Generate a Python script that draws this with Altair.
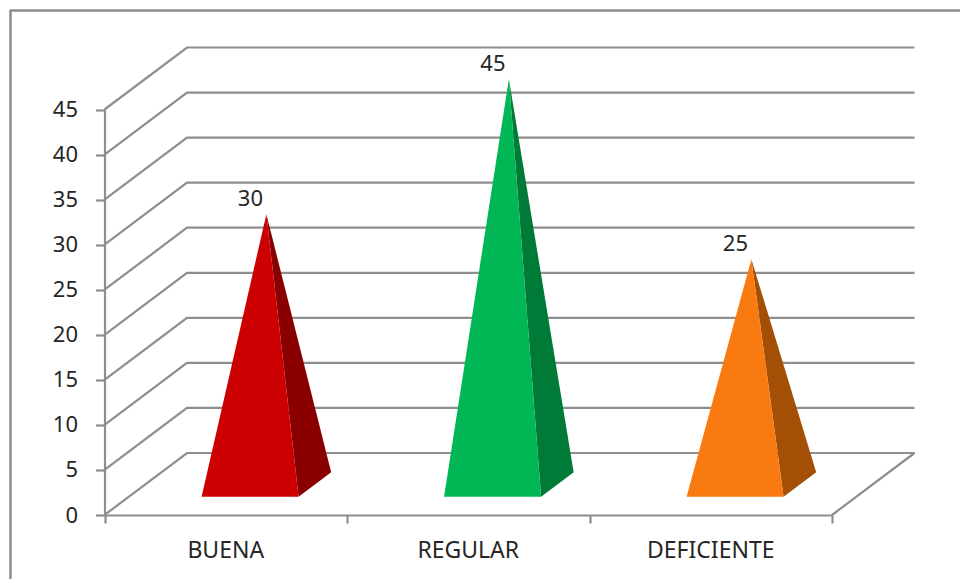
import altair as alt
import pandas as pd

# Chart values
categories = ["BUENA", "REGULAR", "DEFICIENTE"]
values = [30, 45, 25]
front_colors = ["#cc0000", "#00b655", "#fa7a12"]
side_colors = ["#8a0000", "#007a37", "#a34f06"]
ticks = [0, 5, 10, 15, 20, 25, 30, 35, 40, 45]

# Oblique projection of the floor depth, in axis units
DEPTH_X = 82.5 / 242.5
DEPTH_Y = 62 / 9.011
BASE_FRONT = 0.295
BASE_BACK = 0.69
BASE_HALF = 0.2
GRID = "#8e8e8e"
FONT = "Noto Sans"
TEXT = "#262626"


def project(u, v, depth):
    return u + depth * DEPTH_X, v + depth * DEPTH_Y


# Back wall and side wall lines, one polyline per tick
grid_rows = []
for t in ticks:
    for u, d in [(0, 0), (0, 1), (3, 1)]:
        x, y = project(u, t, d)
        grid_rows.append({"tick": t, "x": x, "y": y, "o": len(grid_rows)})
floor_rows = []
for u, d in [(3, 0), (3, 1)]:
    x, y = project(u, 0, d)
    floor_rows.append({"x": x, "y": y, "o": d})

# Each pyramid has a front triangle and a darker right-hand face
front_rows, side_rows, top_rows = [], [], []
for i, (cat, val) in enumerate(zip(categories, values)):
    c = i + 0.5
    ax, ay = project(c, val, (BASE_FRONT + BASE_BACK) / 2)
    lx, by = project(c - BASE_HALF, 0, BASE_FRONT)
    rx, _ = project(c + BASE_HALF, 0, BASE_FRONT)
    bx, bby = project(c + BASE_HALF, 0, BASE_BACK)
    front_rows += [
        {"cat": cat, "x": lx, "top": by, "bottom": by},
        {"cat": cat, "x": ax, "top": ay, "bottom": by},
        {"cat": cat, "x": rx, "top": by, "bottom": by},
    ]
    upper_at_right = ay + (bby - ay) * (rx - ax) / (bx - ax)
    side_rows += [
        {"cat": cat, "x": ax, "top": ay, "bottom": ay},
        {"cat": cat, "x": rx, "top": upper_at_right, "bottom": by},
        {"cat": cat, "x": bx, "top": bby, "bottom": bby},
    ]
    top_rows.append({"cat": cat, "x": ax, "y": ay, "val": val, "c": c})

x_scale = alt.Scale(domain=[0, 3], range=[104.5, 832], nice=False, zero=False)
y_scale = alt.Scale(domain=[0, 45], range=[515, 109.5], nice=False, zero=False)

axis_style = dict(
    domainColor=GRID, domainWidth=2.2, tickColor=GRID, tickWidth=2.2, grid=False, title=None
)

grid = (
    alt.Chart(pd.DataFrame(grid_rows))
    .mark_line(color=GRID, strokeWidth=2.2)
    .encode(
        x=alt.X(
            "x:Q",
            scale=x_scale,
            axis=alt.Axis(
                values=[0, 1, 2, 3], labels=False, tickSize=8, offset=-64, **axis_style
            ),
        ),
        y=alt.Y(
            "y:Q",
            scale=y_scale,
            axis=alt.Axis(
                values=ticks,
                tickSize=9,
                offset=-104.5,
                labelFont=FONT,
                labelFontSize=22,
                labelColor=TEXT,
                labelPadding=18,
                **axis_style,
            ),
        ),
        detail="tick:N",
        order="o:Q",
    )
)

floor_edge = (
    alt.Chart(pd.DataFrame(floor_rows))
    .mark_line(color=GRID, strokeWidth=2.2)
    .encode(x=alt.X("x:Q", scale=x_scale), y=alt.Y("y:Q", scale=y_scale), order="o:Q")
)

color_scale = alt.Scale(domain=categories, range=front_colors)
side_scale = alt.Scale(domain=categories, range=side_colors)

side = (
    alt.Chart(pd.DataFrame(side_rows))
    .mark_area(interpolate="linear", opacity=1)
    .encode(
        x=alt.X("x:Q", scale=x_scale),
        y=alt.Y("top:Q", scale=y_scale),
        y2="bottom:Q",
        color=alt.Color("cat:N", scale=side_scale, legend=None),
        detail="cat:N",
    )
)

front = (
    alt.Chart(pd.DataFrame(front_rows))
    .mark_area(interpolate="linear", opacity=1)
    .encode(
        x=alt.X("x:Q", scale=x_scale),
        y=alt.Y("top:Q", scale=y_scale),
        y2="bottom:Q",
        fill=alt.Fill("cat:N", scale=color_scale, legend=None),
        detail="cat:N",
    )
)

value_labels = (
    alt.Chart(pd.DataFrame(top_rows))
    .mark_text(font=FONT, fontSize=22, color=TEXT, dx=-16, dy=-15)
    .encode(
        x=alt.X("x:Q", scale=x_scale),
        y=alt.Y("y:Q", scale=y_scale),
        text="val:Q",
    )
)

category_labels = (
    alt.Chart(pd.DataFrame(top_rows))
    .mark_text(font=FONT, fontSize=23, color=TEXT)
    .encode(x=alt.X("c:Q", scale=x_scale), y=alt.value(551), text="cat:N")
)

# Frame around the chart: only its top and left edges fall inside the page
frame_top = alt.Chart(pd.DataFrame({"a": [0]})).mark_rule(
    color="#8c8c8c", strokeWidth=2.5
).encode(x=alt.value(10), x2=alt.value(960), y=alt.value(10.5))
frame_left = alt.Chart(pd.DataFrame({"a": [0]})).mark_rule(
    color="#8c8c8c", strokeWidth=2.5
).encode(x=alt.value(10.5), y=alt.value(10), y2=alt.value(579))

chart = (
    alt.layer(
        grid, floor_edge, side, front, value_labels, category_labels, frame_top, frame_left
    )
    .resolve_scale(color="independent")
    .properties(
        width=960,
        height=579,
        padding=0,
        background="white",
        autosize=alt.AutoSizeParams(type="none"),
    )
    .configure_view(stroke=None)
)

chart.save("out.html", embed_options={"renderer": "svg", "actions": False})
